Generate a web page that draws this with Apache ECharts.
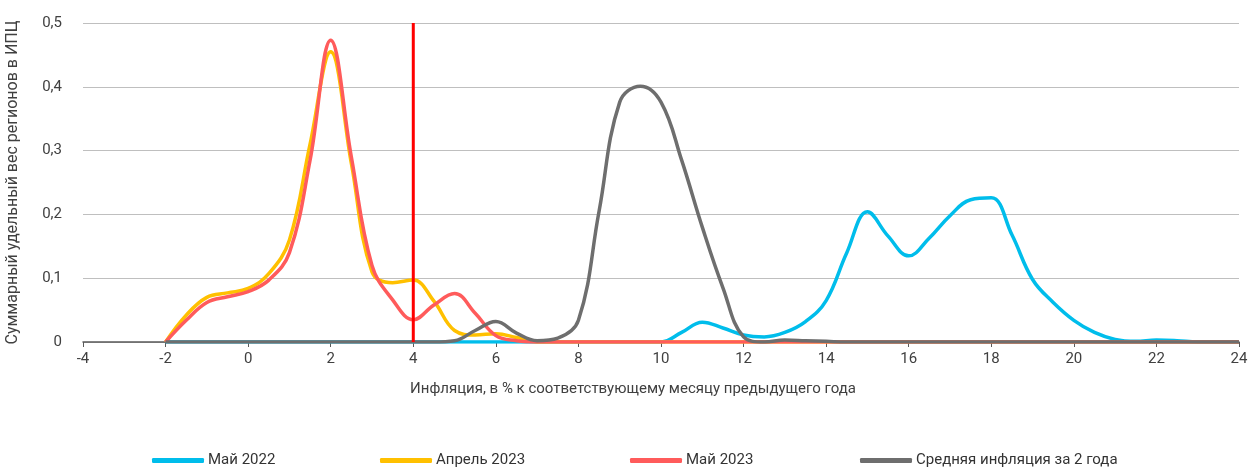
<!DOCTYPE html>
<html><head><meta charset="utf-8">
<script src="https://cdn.jsdelivr.net/npm/echarts@6/dist/echarts.min.js"></script>
<style>html,body{margin:0;padding:0;background:#fff}#c{width:1250px;height:468px}</style>
</head><body><div id="c"></div>
<script>
const xs = [-2,-1.5,-1,-0.5,0,0.5,1,1.5,2,2.5,3,3.5,4,4.5,5,5.5,6,6.5,7,7.5,8,8.5,9,9.5,10,10.5,11,11.5,12,12.5,13,13.5,14,14.5,15,15.5,16,16.5,17,17.5,18,18.5,19,19.5,20,20.5,21,21.5,22,22.5,23,23.5,24];
const may2022 = [0,0,0,0,0,0,0,0,0,0,0,0,0,0,0,0,0,0,0,0,0,0,0,0,0,0.015,0.031,0.022,0.011,0.008,0.015,0.032,0.065,0.14,0.204,0.166,0.135,0.163,0.198,0.223,0.226,0.168,0.098,0.062,0.034,0.015,0.004,0.001,0.003,0.002,0,0,0];
const apr2023 = [0,0.042,0.07,0.077,0.084,0.107,0.16,0.31,0.455,0.28,0.11,0.093,0.097,0.064,0.018,0.011,0.013,0.007,0,0,0,0,0,0,0,0,0,0,0,0,0,0,0,0,0,0,0,0,0,0,0,0,0,0,0,0,0,0,0,0,0,0,0];
const may2023 = [0,0.034,0.062,0.071,0.079,0.097,0.14,0.285,0.473,0.29,0.12,0.066,0.035,0.058,0.076,0.045,0.01,0.002,0,0,0,0,0,0,0,0,0,0,0,0,0,0,0,0,0,0,0,0,0,0,0,0,0,0,0,0,0,0,0,0,0,0,0];
const avg2y = [0,0,0,0,0,0,0,0,0,0,0,0,0,0,0.002,0.018,0.032,0.014,0.002,0.006,0.034,0.205,0.376,0.401,0.376,0.285,0.18,0.085,0.008,0,0.003,0.002,0.001,0,0,0,0,0,0,0,0,0,0,0,0,0,0,0,0,0,0,0,0];
const seriesNames = ['Май 2022','Апрель 2023','Май 2023','Средняя инфляция за 2 года'];
const colors = ['#00BDEB','#FFC000','#FF5B5B','#6E6E6E'];
const targetLine = [[4,0],[4,0.5]];

const FONT = "Roboto, sans-serif";
const pairs = ys => xs.map((x,i)=>[x, ys[i]]);
const allData = [may2022, apr2023, may2023, avg2y];

const series = allData.map((d,i)=>({
  name: seriesNames[i], type:'line', data: pairs(d), smooth:0.4, showSymbol:false, symbol:'none',
  lineStyle:{color:colors[i], width:3.5}, itemStyle:{color:colors[i]}, z: 2+i
}));
series.push({
  name:'target', type:'line', data: targetLine, showSymbol:false, symbol:'none', silent:true,
  lineStyle:{color:'#FF0000', width:3}, itemStyle:{color:'#FF0000'}, z:20
});

const legendLefts = [152, 380, 630, 860];
const legends = seriesNames.map((n,i)=>({
  show:true, left:legendLefts[i], top:453, padding:0, itemWidth:52, itemHeight:5, itemGap:0,
  icon:'roundRect', textStyle:{fontSize:15, color:'#333', fontFamily:FONT, padding:[0,0,0,-1]},
  data:[n], selectedMode:false
}));

const chart = echarts.init(document.getElementById('c'), null, {renderer:'canvas'});
chart.setOption({
  animation:false,
  textStyle:{fontFamily:FONT},
  grid:{left:83, right:11, top:23, bottom:126, containLabel:false, outerBoundsMode:'none'},
  xAxis:{type:'value', min:-4, max:24, interval:2,
    name:'Инфляция, в % к соответствующему месяцу предыдущего года',
    nameLocation:'middle', nameGap:40,
    nameTextStyle:{fontSize:15, color:'#404040', fontFamily:FONT, padding:[0,56,0,0]},
    axisLine:{show:true, onZero:false, lineStyle:{color:'#595959', width:1.5}},
    axisTick:{show:true, length:5, lineStyle:{color:'#595959'}},
    axisLabel:{fontSize:15, color:'#404040', fontFamily:FONT, margin:10},
    splitLine:{show:false}},
  yAxis:{type:'value', min:0, max:0.5, interval:0.1,
    name:'Суммарный удельный вес регионов в ИПЦ',
    nameLocation:'middle', nameGap:62, nameRotate:90,
    nameTextStyle:{fontSize:16, color:'#404040', fontFamily:FONT},
    axisLine:{show:false}, axisTick:{show:false},
    axisLabel:{fontSize:15, color:'#404040', fontFamily:FONT, margin:21,
      formatter:v=> v===0 ? '0' : String(Math.round(v*10)/10).replace('.',',')},
    splitLine:{show:true, lineStyle:{color:'#BFBFBF', width:1}}},
  legend: legends,
  series: series
});
</script></body></html>
